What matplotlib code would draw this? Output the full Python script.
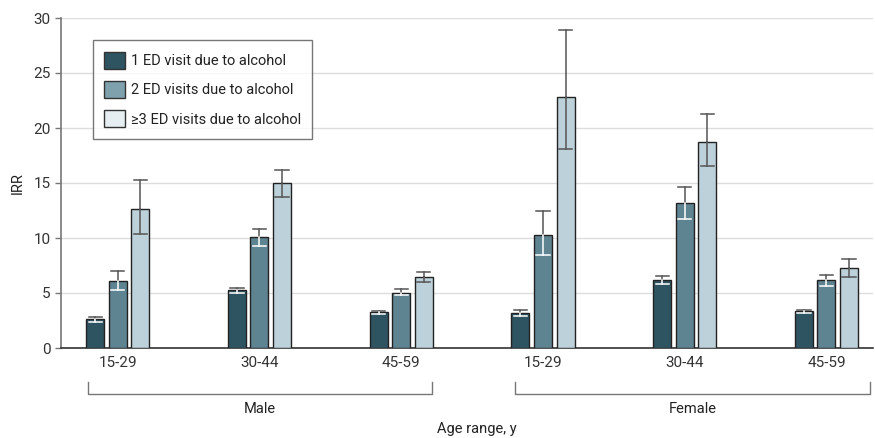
import matplotlib
matplotlib.use("Agg")
import matplotlib.pyplot as plt
from matplotlib.patches import Patch
from matplotlib import font_manager
import numpy as np

names = {f.name for f in font_manager.fontManager.ttflist}
fam = 'Liberation Sans Narrow' if 'Liberation Sans Narrow' in names else 'Roboto'
plt.rcParams['font.family'] = [fam, 'DejaVu Sans']

age_groups = ["15-29", "30-44", "45-59", "15-29", "30-44", "45-59"]
sexes = ["Male", "Female"]
series_labels = ["1 ED visit due to alcohol", "2 ED visits due to alcohol", "≥3 ED visits due to alcohol"]

irr_1 = [2.6, 5.3, 3.3, 3.2, 6.15, 3.35]
lo_1 = [2.4, 5.0, 3.1, 2.9, 5.8, 3.15]
hi_1 = [2.8, 5.5, 3.4, 3.5, 6.55, 3.5]

irr_2 = [6.1, 10.1, 5.0, 10.3, 13.15, 6.15]
lo_2 = [5.3, 9.3, 4.8, 8.45, 11.7, 5.6]
hi_2 = [7.0, 10.8, 5.4, 12.45, 14.6, 6.6]

irr_3 = [12.6, 15.0, 6.45, 22.8, 18.7, 7.3]
lo_3 = [10.4, 13.7, 6.0, 18.1, 16.55, 6.45]
hi_3 = [15.3, 16.2, 6.9, 28.9, 21.25, 8.05]

colors = ["#2e5462", "#5e8391", "#bdd1da"]
legend_colors = ["#2e5462", "#7fa1ae", "#e6eef1"]
inner_err = ["white", "white", "#555555"]

fig = plt.figure(figsize=(8.75, 4.38), dpi=100)
ax = fig.add_axes([61/875, 1-348/438, 1-61/875-0.002, 330/438])

x = np.arange(len(age_groups))
w = 0.127
off = 0.159
data = [(irr_1, lo_1, hi_1), (irr_2, lo_2, hi_2), (irr_3, lo_3, hi_3)]
for i, (v, lo, hi) in enumerate(data):
    xs = x + (i - 1) * off
    ax.bar(xs, v, width=w, color=colors[i], edgecolor="#222222", linewidth=1.0, zorder=3)
    cap = w * 0.37
    for xi, vi, l, h in zip(xs, v, lo, hi):
        ax.plot([xi, xi], [vi, h], color="#555555", lw=1.1, zorder=4)
        ax.plot([xi - cap, xi + cap], [h, h], color="#555555", lw=1.1, zorder=4)
        ax.plot([xi, xi], [l, vi], color=inner_err[i], lw=1.1, zorder=4)
        ax.plot([xi - cap, xi + cap], [l, l], color=inner_err[i], lw=1.1, zorder=4)

ax.set_xlim(-0.40, 5.33)
ax.set_ylim(0, 30)
ax.set_yticks(range(0, 31, 5))
ax.set_ylabel("IRR", fontsize=10.5, color="#222222", labelpad=6)
ax.yaxis.grid(True, color="#dddddd", lw=1.0, zorder=0)
ax.set_axisbelow(True)
ax.set_xticks(x)
ax.set_xticklabels(age_groups)
ax.tick_params(axis="x", length=0, labelsize=11, colors="#333333", pad=6)
ax.tick_params(axis="y", length=4, width=1, color="#777777", labelsize=11, labelcolor="#333333")
for s in ["top", "right"]:
    ax.spines[s].set_visible(False)
ax.spines["left"].set_color("#777777")
ax.spines["left"].set_linewidth(1.2)
ax.spines["bottom"].set_color("#333333")
ax.spines["bottom"].set_linewidth(1.2)

# group brackets
trans = matplotlib.transforms.blended_transform_factory(ax.transData, fig.transFigure)
y_top = 1 - 382/438
y_bot = 1 - 394/438
spans = [(-0.21, 2.22), (2.80, 5.31)]
for (a, b), lab in zip(spans, sexes):
    ax.plot([a, a, b, b], [y_top, y_bot, y_bot, y_top], transform=trans, color="#777777",
            lw=1.0, clip_on=False)
    ax.text((a + b) / 2, 1 - 409/438, lab, transform=trans, ha="center", va="center",
            fontsize=10.5, color="#222222")
fig.text((61 + 875) / 2 / 875 + 0.01, 1 - 429/438, "Age range, y", ha="center", va="center",
         fontsize=10.5, color="#222222")

handles = [Patch(facecolor=legend_colors[i], edgecolor="#333333", lw=1.0) for i in range(3)]
leg = ax.legend(handles, series_labels, loc="upper left", bbox_to_anchor=(0.039, 0.933),
                borderaxespad=0, fontsize=10.5, handlelength=1.4, handleheight=1.4,
                handletextpad=0.4, labelspacing=0.85, fancybox=False, frameon=True,
                borderpad=0.8)
leg.get_frame().set_edgecolor("#555555")
leg.get_frame().set_linewidth(1.0)
for t in leg.get_texts():
    t.set_color("#222222")

fig.savefig("out.png", dpi=100)
